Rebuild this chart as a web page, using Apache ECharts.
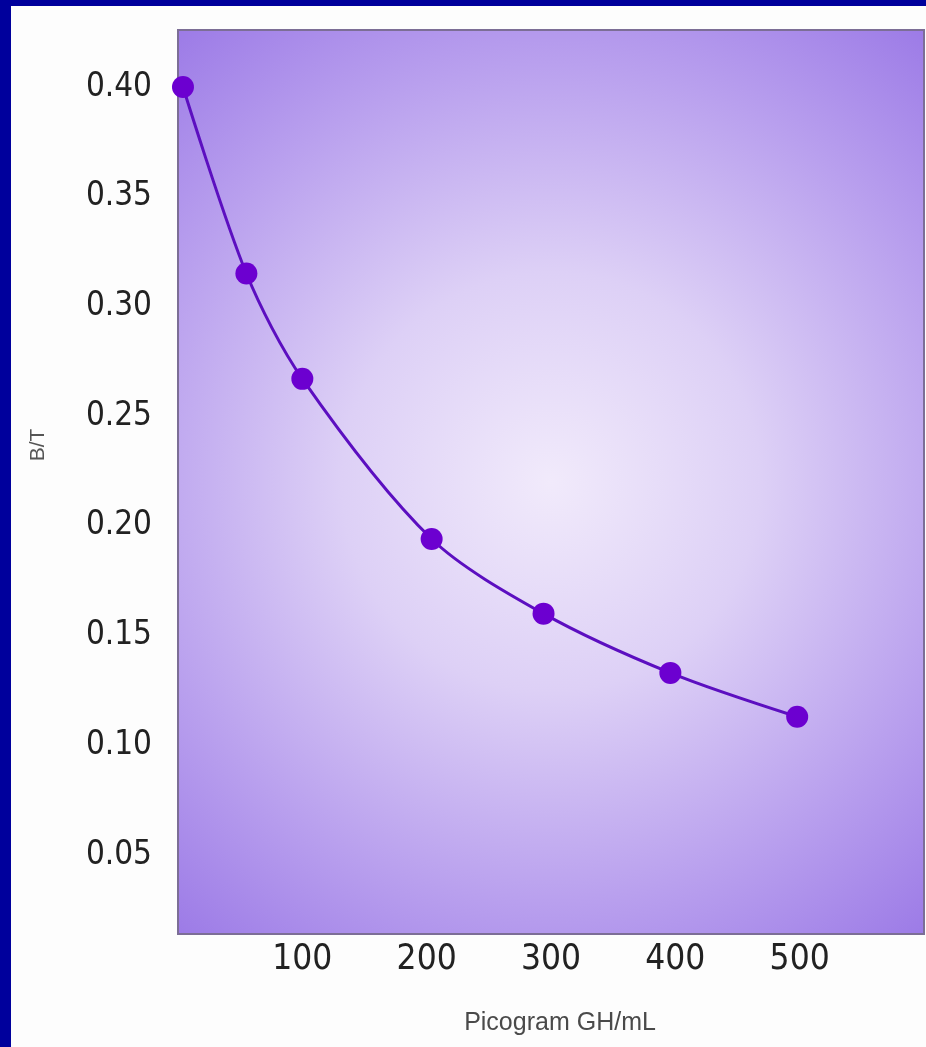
<!DOCTYPE html>
<html>
<head>
<meta charset="utf-8">
<script src="https://cdn.jsdelivr.net/npm/echarts@6/dist/echarts.min.js"></script>
<style>
  html, body { margin: 0; padding: 0; background: #00009c; }
  #chart { position: absolute; left: 11px; top: 6px; width: 915px; height: 1041px; background: #fdfdfd; }
</style>
</head>
<body>
<div id="chart"></div>
<script>
// concentration (pg GH/mL) and bound/total ratio
const concentrations = [4, 55, 100, 204, 294, 396, 498];
const boundRatio = [0.400, 0.315, 0.267, 0.194, 0.160, 0.133, 0.113];
const xTickLabels = [100, 200, 300, 400, 500];
const yTickLabels = [0.05, 0.10, 0.15, 0.20, 0.25, 0.30, 0.35, 0.40];

const narrowFont = "'Liberation Sans Narrow', 'DejaVu Sans Condensed', 'Liberation Sans', sans-serif";

const chart = echarts.init(document.getElementById('chart'));

const points = concentrations.map((c, i) => [c, boundRatio[i]]);

const option = {
    animation: false,
    grid: {
        left: 167,
        top: 24,
        right: 2,
        bottom: 113,
        show: true,
        borderColor: '#7c6e96',
        borderWidth: 2,
        backgroundColor: {
            type: 'radial',
            x: 0.5,
            y: 0.5,
            r: 0.8,
            colorStops: [
                { offset: 0, color: '#f1eafb' },
                { offset: 0.35, color: '#ddd0f6' },
                { offset: 0.7, color: '#b9a0ee' },
                { offset: 1, color: '#9a78e6' }
            ]
        }
    },
    xAxis: {
        type: 'value',
        min: 0,
        max: 600,
        name: 'Picogram GH/mL',
        nameLocation: 'middle',
        nameGap: 77,
        nameTextStyle: {
            fontFamily: 'Liberation Sans',
            fontSize: 25,
            color: '#4a4a4a',
            padding: [0, 0, 0, 18]
        },
        axisLine: { show: false },
        axisTick: { show: false },
        splitLine: { show: false },
        axisLabel: {
            customValues: xTickLabels,
            margin: 8,
            fontFamily: narrowFont,
            fontSize: 35,
            color: '#222'
        }
    },
    yAxis: {
        type: 'value',
        min: 0.014,
        max: 0.426,
        name: 'B/T',
        nameLocation: 'middle',
        nameRotate: 90,
        nameGap: 129,
        nameTextStyle: {
            fontFamily: 'Liberation Sans',
            fontSize: 21,
            color: '#555',
            padding: [0, 0, 0, 74]
        },
        axisLine: { show: false },
        axisTick: { show: false },
        splitLine: { show: false },
        axisLabel: {
            customValues: yTickLabels,
            margin: 26,
            fontFamily: narrowFont,
            fontSize: 33,
            color: '#222',
            formatter: (v) => v.toFixed(2)
        }
    },
    series: [
        {
            type: 'line',
            data: points,
            smooth: 0.3,
            symbol: 'circle',
            symbolSize: 22,
            lineStyle: { color: '#5c0fc0', width: 3 },
            itemStyle: { color: '#6c00d0' }
        }
    ]
};

chart.setOption(option);
</script>
</body>
</html>
